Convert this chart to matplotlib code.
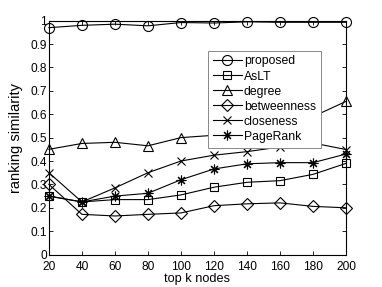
import matplotlib
matplotlib.use("Agg")
import matplotlib.pyplot as plt

plt.rcParams['font.family'] = ['Liberation Sans', 'DejaVu Sans']

top_k = [20, 40, 60, 80, 100, 120, 140, 160, 180, 200]
proposed = [0.97, 0.98, 0.985, 0.978, 0.992, 0.99, 0.995, 0.993, 0.993, 0.993]
aslt = [0.25, 0.225, 0.235, 0.235, 0.255, 0.288, 0.309, 0.316, 0.343, 0.39]
degree = [0.45, 0.475, 0.48, 0.465, 0.50, 0.51, 0.53, 0.56, 0.59, 0.655]
betweenness = [0.30, 0.172, 0.165, 0.172, 0.178, 0.209, 0.217, 0.221, 0.206, 0.20]
closeness = [0.35, 0.225, 0.285, 0.35, 0.40, 0.425, 0.44, 0.46, 0.477, 0.449]
pagerank = [0.25, 0.225, 0.25, 0.262, 0.32, 0.366, 0.388, 0.393, 0.393, 0.43]

series = [
    ("proposed", proposed, "o", 7.2),
    ("AsLT", aslt, "s", 5.5),
    ("degree", degree, "^", 7.5),
    ("betweenness", betweenness, "D", 6.5),
    ("closeness", closeness, "x", 6),
    ("PageRank", pagerank, (8, 2, 0), 7),
]

fig = plt.figure(figsize=(3.82, 2.87), dpi=100)
ax = fig.add_axes([0.128, 0.113, 0.778, 0.815])

for name, vals, m, ms in series:
    ax.plot(top_k, vals, color='black', lw=0.8, marker=m, markersize=ms,
            markerfacecolor='none', markeredgecolor='black', markeredgewidth=0.8,
            label=name, clip_on=False)

ax.set_xlim(20, 200)
ax.set_ylim(0, 1)
ax.set_xticks(top_k)
ax.set_yticks([0, 0.1, 0.2, 0.3, 0.4, 0.5, 0.6, 0.7, 0.8, 0.9, 1])
ax.set_yticklabels(["0", "0.1", "0.2", "0.3", "0.4", "0.5", "0.6", "0.7", "0.8", "0.9", "1"])
ax.tick_params(direction='in', labelsize=8.6, length=3, width=0.6,
               top=True, right=True)
ax.tick_params(axis='x', pad=4.5)
ax.tick_params(axis='y', pad=1.5)
for s in ax.spines.values():
    s.set_linewidth(0.8)
ax.set_xlabel("top k nodes", fontsize=9.2, labelpad=0)
ax.set_ylabel("ranking similarity", fontsize=10.5, labelpad=5)

leg = ax.legend(loc='upper left', bbox_to_anchor=(0.535, 0.872), fontsize=8.8,
                fancybox=False, framealpha=1, edgecolor='#888888',
                handlelength=2.4, handletextpad=0.15, labelspacing=0.25,
                borderpad=0.4, borderaxespad=0)
leg.get_frame().set_linewidth(0.7)

fig.savefig("out.png", dpi=100)
